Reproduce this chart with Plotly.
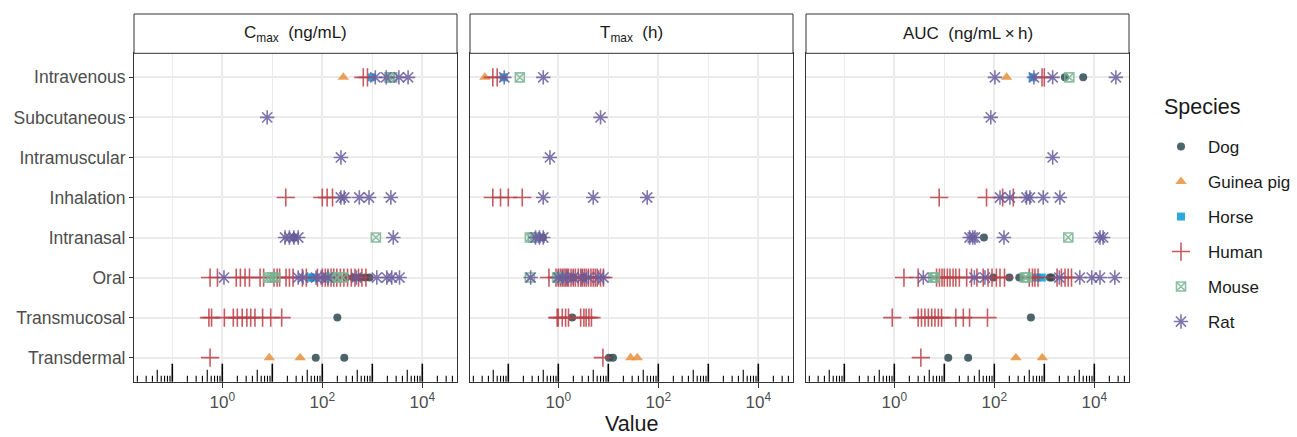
import plotly.graph_objects as go
import math

# ---------------- data ----------------
ROUTES = ["Intravenous", "Subcutaneous", "Intramuscular", "Inhalation",
          "Intranasal", "Oral", "Transmucosal", "Transdermal"]
SPECIES = ["Dog", "Guinea pig", "Horse", "Human", "Mouse", "Rat"]
PANEL_TITLES = ["C<sub>max</sub>\u00a0\u00a0(ng/mL)", "T<sub>max</sub>\u00a0\u00a0(h)",
                "AUC\u00a0\u00a0(ng/mL\u2009\u00d7\u2009h)"]
X_TICKS = [1, 100, 10000]
X_TICKTEXT = ["10<sup>0</sup>", "10<sup>2</sup>", "10<sup>4</sup>"]

# Cmax (ng/mL)
cmax_dog = {"Intranasal": [27.5], "Oral": [300, 420, 560, 720, 880],
            "Transmucosal": [200], "Transdermal": [74, 275]}
cmax_guinea_pig = {"Intravenous": [263], "Transdermal": [8.7, 36]}
cmax_horse = {"Intravenous": [980], "Oral": [57, 66, 125, 190]}
cmax_human = {"Intravenous": [660, 800], "Inhalation": [18.6, 100, 125, 160],
              "Oral": [0.57, 0.8, 1.9, 2.3, 2.85, 3.5, 5.7, 6.7, 10.8, 12.5, 14, 18.8, 22, 26,
                       40, 48, 80, 100, 115, 130, 150, 170, 195, 230, 270, 320, 380, 450, 530,
                       620, 745],
              "Transmucosal": [0.54, 0.61, 1.1, 1.66, 2.0, 2.5, 3.1, 3.7, 4.5, 6.4, 9.3, 15.4],
              "Transdermal": [0.57]}
cmax_mouse = {"Intravenous": [2200, 2500], "Intranasal": [1180],
              "Oral": [8.3, 9.8, 11.5, 150, 200, 260]}
cmax_rat = {"Intravenous": [1150, 1900, 3400, 5200], "Subcutaneous": [7.9],
            "Intramuscular": [236], "Inhalation": [235, 275, 550, 860, 2350],
            "Intranasal": [18, 22, 27, 33, 2630],
            "Oral": [1.08, 33, 41, 75, 95, 130, 480, 1230, 1950, 2450, 3500]}

# Tmax (h)
tmax_dog = {"Intranasal": [0.49], "Oral": [2.0, 3.2], "Transmucosal": [1.9],
            "Transdermal": [10.3, 12.4]}
tmax_guinea_pig = {"Intravenous": [0.034], "Transdermal": [28, 38]}
tmax_horse = {"Intravenous": [0.081]}
tmax_human = {"Intravenous": [0.049, 0.06], "Inhalation": [0.049, 0.07, 0.10, 0.19],
              "Oral": [0.65, 0.9, 1.0, 1.1, 1.2, 1.3, 1.4, 1.5, 1.6, 1.8, 2.0, 2.2, 2.5, 2.8,
                       3.0, 3.3, 3.6, 4.0, 4.5, 5.0, 5.5, 6.0, 7.0, 8.0],
              "Transmucosal": [0.95, 1.0, 1.2, 1.4, 1.6, 2.8, 3.25, 3.6, 4.1, 4.6],
              "Transdermal": [7.8]}
tmax_mouse = {"Intravenous": [0.17], "Intranasal": [0.27, 0.31], "Oral": [0.27, 0.95, 1.05]}
tmax_rat = {"Intravenous": [0.083, 0.5], "Subcutaneous": [7.0], "Intramuscular": [0.68],
            "Inhalation": [0.5, 5.0, 60], "Intranasal": [0.35, 0.42, 0.5],
            "Oral": [0.28, 1.0, 1.2, 1.5, 2.0, 3.0, 4.0, 6.4, 8.0]}

# AUC (ng/mL x h)
auc_dog = {"Intravenous": [2580, 6000], "Intranasal": [62], "Oral": [95, 200, 316, 1290, 1400],
           "Transmucosal": [540], "Transdermal": [12, 30]}
auc_guinea_pig = {"Intravenous": [176], "Transdermal": [270, 910]}
auc_horse = {"Intravenous": [585], "Oral": [700, 890]}
auc_human = {"Intravenous": [900, 1000], "Inhalation": [7.9, 70, 147, 240],
             "Oral": [1.56, 3.0, 7.0, 8.0, 9.0, 10, 11.5, 13, 15, 17, 20, 28, 35, 45, 60, 75,
                      90, 110, 130, 160, 500, 580, 650, 750, 1800, 2200, 2600, 3000, 3500],
             "Transmucosal": [0.91, 3.0, 3.5, 4.1, 4.8, 5.6, 6.5, 7.6, 8.8, 17, 24, 32, 73],
             "Transdermal": [3.4]}
auc_mouse = {"Intravenous": [3160], "Intranasal": [3020], "Oral": [6.0, 6.5, 410, 440]}
auc_rat = {"Intravenous": [103, 620, 1470, 27000], "Subcutaneous": [85], "Intramuscular": [1470],
           "Inhalation": [130, 205, 440, 515, 950, 2050],
           "Intranasal": [32, 37, 41, 156, 13000, 15000],
           "Oral": [3.8, 40, 65, 2000, 5130, 8900, 13000, 25700]}

PANELS = [
    [cmax_dog, cmax_guinea_pig, cmax_horse, cmax_human, cmax_mouse, cmax_rat],
    [tmax_dog, tmax_guinea_pig, tmax_horse, tmax_human, tmax_mouse, tmax_rat],
    [auc_dog, auc_guinea_pig, auc_horse, auc_human, auc_mouse, auc_rat],
]

# ---------------- styles ----------------
COLORS = ["#2F4A52", "#E6903C", "#0B9BD7", "#BC3F47", "#78B493", "#6A5D9E"]
SYMBOLS = ["circle", "triangle-up", "square", "cross-thin-open", "square-x-open", "asterisk-open"]
SIZES = [8, 10, 8, 13, 9, 12]
OPEN = [False, False, False, True, True, True]

W, H = 1297, 437
FONT = "Liberation Sans, Arial, sans-serif"
X_DOMAINS = [[134 / W, 457 / W], [470 / W, 793 / W], [806 / W, 1129 / W]]
Y_DOMAIN = [1 - 381.7 / H, 1 - 53.3 / H]
X_RANGE = [-1.766, 4.694]

fig = go.Figure()

for p, panel in enumerate(PANELS):
    suffix = "" if p == 0 else str(p + 1)
    for s, sp in enumerate(SPECIES):
        d = panel[s]
        xs, ys = [], []
        for r in ROUTES:
            for v in d.get(r, []):
                xs.append(v)
                ys.append(r)
        marker = dict(color=COLORS[s], symbol=SYMBOLS[s], size=SIZES[s], opacity=0.85)
        if OPEN[s]:
            marker["line"] = dict(color=COLORS[s], width=1.6)
        else:
            marker["line"] = dict(width=0)
        fig.add_trace(go.Scatter(
            x=xs, y=ys, mode="markers", name=sp, legendgroup=sp,
            showlegend=(p == 0), marker=marker,
            xaxis="x" + suffix, yaxis="y" + suffix, cliponaxis=False,
        ))

layout = dict(
    width=W, height=H, margin=dict(l=0, r=0, t=0, b=0),
    paper_bgcolor="white", plot_bgcolor="white",
    font=dict(family=FONT, size=17, color="#1A1A1A"),
    showlegend=True,
    legend=dict(
        x=1154 / W, y=1 - 129 / H, xanchor="left", yanchor="top",
        font=dict(size=17, color="#1A1A1A"), tracegroupgap=9.9,
        bgcolor="rgba(0,0,0,0)", itemwidth=44,
    ),
)

for p in range(3):
    suffix = "" if p == 0 else str(p + 1)
    layout["xaxis" + suffix] = dict(
        domain=X_DOMAINS[p], anchor="y" + suffix, type="log", range=X_RANGE,
        tickvals=X_TICKS, ticktext=X_TICKTEXT, ticks="outside", ticklen=5,
        tickwidth=1.2, tickcolor="#333333",
        tickfont=dict(size=17, color="#4D4D4D"),
        showgrid=True, gridcolor="#EBEBEB", gridwidth=1.6,
        minor=dict(tickvals=[0.1, 10, 1000], showgrid=True, gridcolor="#EBEBEB",
                   gridwidth=0.8, ticks=""),
        showline=True, linecolor="#333333", linewidth=1, mirror=True,
        zeroline=False, fixedrange=True,
    )
    layout["yaxis" + suffix] = dict(
        domain=Y_DOMAIN, anchor="x" + suffix, type="category",
        categoryorder="array", categoryarray=ROUTES,
        range=[len(ROUTES) - 1 + 0.6, -0.6],
        showticklabels=(p == 0), ticks="outside" if p == 0 else "", ticklen=4,
        tickwidth=1.2, tickcolor="#333333",
        tickfont=dict(size=17.5, color="#4D4D4D"),
        showgrid=True, gridcolor="#EBEBEB", gridwidth=1.6,
        showline=True, linecolor="#333333", linewidth=1, mirror=True,
        zeroline=False, fixedrange=True,
    )

fig.update_layout(**layout)

# strips (facet headers)
shapes = []
annotations = []
for p in range(3):
    suffix = "" if p == 0 else str(p + 1)
    shapes.append(dict(type="rect", xref="x" + suffix + " domain", yref="paper",
                       x0=0, x1=1, y0=1 - 53.3 / H, y1=1 - 14 / H,
                       line=dict(color="#333333", width=1), fillcolor="white", layer="above"))
    annotations.append(dict(text=PANEL_TITLES[p], xref="x" + suffix + " domain", yref="paper",
                            x=0.5, y=1 - 33.5 / H, showarrow=False, xanchor="center",
                            yanchor="middle", font=dict(size=17, color="#1A1A1A")))
    # log ticks (annotation_logticks style) along the bottom of each panel
    lo, hi = X_RANGE
    for dec in range(math.floor(lo), math.ceil(hi) + 1):
        for k in range(1, 10):
            v = k * 10 ** dec
            lv = math.log10(v)
            if lv < lo or lv > hi:
                continue
            length = 18 if k == 1 else (12 if k == 5 else 6)
            shapes.append(dict(type="line", xref="x" + suffix, yref="y" + suffix + " domain",
                               x0=v, x1=v, ysizemode="pixel", yanchor=0, y0=0, y1=length,
                               line=dict(color="black", width=1.1 if k != 1 else 1.6),
                               layer="above"))

annotations.append(dict(text="Value", xref="paper", yref="paper",
                        x=(134 + 1129) / 2 / W, y=1 - 424 / H, showarrow=False,
                        xanchor="center", yanchor="middle",
                        font=dict(size=21.5, color="#1A1A1A")))
annotations.append(dict(text="Species", xref="paper", yref="paper",
                        x=1162 / W, y=1 - 107 / H, showarrow=False,
                        xanchor="left", yanchor="middle",
                        font=dict(size=21.5, color="#1A1A1A")))

fig.update_layout(shapes=shapes, annotations=annotations)

fig.write_html("out.html")
